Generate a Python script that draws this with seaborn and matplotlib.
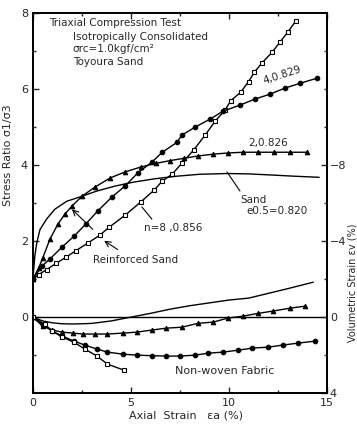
import matplotlib
matplotlib.use("Agg")
import matplotlib.pyplot as plt
import seaborn as sns
import numpy as np

# ---- Stress ratio data (left axis) ----
n8_x = [0, 0.3, 0.7, 1.2, 1.7, 2.2, 2.8, 3.4, 3.9, 4.7, 5.5, 6.2, 6.6, 7.1, 7.6, 8.2, 8.8, 9.3, 9.8, 10.1, 10.6, 11.0, 11.3, 11.7, 12.2, 12.6, 13.0, 13.4]
n8_y = [1.0, 1.12, 1.25, 1.42, 1.58, 1.75, 1.95, 2.15, 2.37, 2.68, 3.03, 3.35, 3.58, 3.76, 4.05, 4.4, 4.8, 5.16, 5.45, 5.7, 5.92, 6.2, 6.45, 6.7, 6.97, 7.24, 7.5, 7.79]

n4_x = [0, 0.46, 0.87, 1.48, 2.1, 2.7, 3.3, 4.03, 4.7, 5.36, 6.07, 6.6, 7.35, 7.6, 8.27, 9.03, 9.7, 10.56, 11.33, 12.1, 12.86, 13.6, 14.5]
n4_y = [1.0, 1.34, 1.53, 1.84, 2.13, 2.45, 2.79, 3.16, 3.45, 3.8, 4.08, 4.34, 4.6, 4.79, 5.0, 5.21, 5.42, 5.58, 5.74, 5.87, 6.03, 6.15, 6.29]

n2_x = [0, 0.3, 0.5, 0.87, 1.28, 1.63, 1.99, 2.5, 3.16, 3.93, 4.69, 5.5, 6.3, 7.0, 7.7, 8.4, 9.2, 9.95, 10.7, 11.5, 12.3, 13.1, 13.98]
n2_y = [1.0, 1.3, 1.55, 2.05, 2.45, 2.71, 2.92, 3.18, 3.42, 3.66, 3.82, 3.95, 4.05, 4.12, 4.18, 4.24, 4.29, 4.32, 4.34, 4.34, 4.34, 4.34, 4.34]

sand_x = [0, 0.1, 0.2, 0.36, 0.7, 1.12, 1.73, 2.5, 3.27, 4.2, 5.1, 6.2, 7.35, 8.5, 9.9, 11.0, 12.2, 13.3, 14.6]
sand_y = [1.0, 1.6, 1.95, 2.3, 2.58, 2.84, 3.05, 3.18, 3.32, 3.45, 3.55, 3.64, 3.71, 3.76, 3.78, 3.77, 3.74, 3.71, 3.68]

# ---- Volumetric strain data (right axis) ----
vsand_x = [0, 0.5, 1, 1.5, 2, 2.5, 3, 4, 5, 6, 7, 8, 9, 10, 11, 12, 13, 14.3]
vsand_y = [0, 0.2, 0.3, 0.35, 0.36, 0.35, 0.33, 0.2, 0.0, -0.2, -0.42, -0.6, -0.75, -0.9, -1.0, -1.25, -1.5, -1.84]

vn2_x = [0, 0.5, 1.0, 1.48, 2.05, 2.55, 3.16, 3.8, 4.6, 5.3, 6.07, 6.8, 7.6, 8.4, 9.2, 9.95, 10.7, 11.5, 12.25, 13.1, 13.9]
vn2_y = [0, 0.47, 0.68, 0.79, 0.84, 0.89, 0.89, 0.89, 0.84, 0.79, 0.68, 0.58, 0.53, 0.33, 0.26, 0.05, -0.05, -0.2, -0.32, -0.47, -0.58]

vn4_x = [0, 0.5, 1.0, 1.5, 2.1, 2.65, 3.27, 3.8, 4.6, 5.3, 6.07, 6.8, 7.5, 8.27, 8.93, 9.7, 10.46, 11.2, 12.0, 12.76, 13.5, 14.4]
vn4_y = [0, 0.4, 0.74, 1.0, 1.26, 1.47, 1.68, 1.84, 1.95, 2.0, 2.03, 2.05, 2.05, 2.0, 1.9, 1.84, 1.74, 1.63, 1.58, 1.47, 1.37, 1.26]

vn8_x = [0, 0.6, 1.0, 1.5, 2.1, 2.65, 3.27, 3.8, 4.64]
vn8_y = [0, 0.37, 0.74, 1.05, 1.32, 1.68, 2.05, 2.47, 2.79]

sns.set_style("ticks")
plt.rcParams['font.family'] = ['DejaVu Sans']

fig = plt.figure(figsize=(3.57, 4.25), dpi=100)
ax = fig.add_axes([0.092, 0.075, 0.824, 0.894])
ax2 = ax.twinx()

lw = 1.0
ms = 3.3
sns.lineplot(x=n8_x, y=n8_y, ax=ax, color='black', lw=lw, marker='s', markersize=ms,
             markerfacecolor='white', markeredgecolor='black', markeredgewidth=0.8, sort=False, estimator=None)
sns.lineplot(x=n4_x, y=n4_y, ax=ax, color='black', lw=lw, marker='o', markersize=ms,
             markeredgecolor='black', sort=False, estimator=None)
sns.lineplot(x=n2_x, y=n2_y, ax=ax, color='black', lw=lw, marker='^', markersize=ms,
             markeredgecolor='black', sort=False, estimator=None)
sns.lineplot(x=sand_x, y=sand_y, ax=ax, color='black', lw=lw, sort=False, estimator=None)

sns.lineplot(x=vsand_x, y=vsand_y, ax=ax2, color='black', lw=lw, sort=False, estimator=None)
sns.lineplot(x=vn2_x, y=vn2_y, ax=ax2, color='black', lw=lw, marker='^', markersize=ms,
             markeredgecolor='black', sort=False, estimator=None)
sns.lineplot(x=vn4_x, y=vn4_y, ax=ax2, color='black', lw=lw, marker='o', markersize=ms,
             markeredgecolor='black', sort=False, estimator=None)
sns.lineplot(x=vn8_x, y=vn8_y, ax=ax2, color='black', lw=lw, marker='s', markersize=ms,
             markerfacecolor='white', markeredgecolor='black', markeredgewidth=0.8, sort=False, estimator=None)

ax.axhline(0, color='black', lw=1.0)

ax.set_xlim(0, 15)
ax.set_ylim(-2, 8)
ax2.set_ylim(4, -16)

ax.set_xticks([0, 5, 10, 15])
ax.set_xticks([2.5, 7.5, 12.5], minor=True)
ax.set_yticks([0, 2, 4, 6, 8])
ax.set_yticks([-1, 1, 3, 5, 7], minor=True)
ax2.set_yticks([-8, -4, 0, 4])
ax2.set_yticks([-14, -12, -10, -6, -2, 2], minor=True)

for a in (ax, ax2):
    for s in a.spines.values():
        s.set_linewidth(1.3)
        s.set_color('black')
ax.tick_params(axis='both', which='both', direction='in', labelsize=8, top=True, width=1.0)
ax.tick_params(which='major', length=4)
ax.tick_params(which='minor', length=2.5)
ax2.tick_params(axis='y', which='both', direction='in', labelsize=8, width=1.0, pad=2)
ax2.tick_params(which='major', length=4)
ax2.tick_params(which='minor', length=2.5)

ax.set_xlabel('Axial  Strain   εa (%)', fontsize=8)
ax.set_ylabel('Stress Ratio σ1/σ3', fontsize=8)
ax2.set_ylabel('Volumetric Strain εv (%)', fontsize=7)
ax.xaxis.set_label_coords(0.52, -0.045)
ax.yaxis.set_label_coords(-0.068, 0.625)
ax2.yaxis.set_label_coords(1.07, 0.29)

fs = 7.5
ax.text(0.82, 7.74, 'Triaxial Compression Test', fontsize=fs, va='center')
ax.text(2.04, 7.37, 'Isotropically Consolidated', fontsize=fs, va='center')
ax.text(2.04, 7.05, 'σrc=1.0kgf/cm²', fontsize=fs, va='center')
ax.text(2.04, 6.71, 'Toyoura Sand', fontsize=fs, va='center')

ax.text(12.7, 6.38, '4,0.829', fontsize=fs, ha='center', va='center', rotation=18)
ax.text(12.0, 4.58, '2,0.826', fontsize=fs, ha='center', va='center')
ax.text(10.6, 3.08, 'Sand', fontsize=fs, ha='left', va='center')
ax.text(10.9, 2.79, 'e0.5=0.820', fontsize=fs, ha='left', va='center')
ax.plot([9.9, 10.56], [3.82, 3.32], color='black', lw=0.8)
ax.text(7.14, 2.34, 'n=8 ,0.856', fontsize=fs, ha='center', va='center')
ax.plot([5.56, 6.07], [2.9, 2.58], color='black', lw=0.8)
ax.text(5.26, 1.5, 'Reinforced Sand', fontsize=fs, ha='center', va='center')
ax.annotate('', xy=(1.89, 2.89), xytext=(3.16, 2.26),
            arrowprops=dict(arrowstyle='->', color='black', lw=0.8))
ax.annotate('', xy=(3.52, 2.05), xytext=(4.44, 1.74),
            arrowprops=dict(arrowstyle='->', color='black', lw=0.8))
ax.text(9.8, -1.42, 'Non-woven Fabric', fontsize=8, ha='center', va='center')

fig.savefig('out.png', dpi=100)
